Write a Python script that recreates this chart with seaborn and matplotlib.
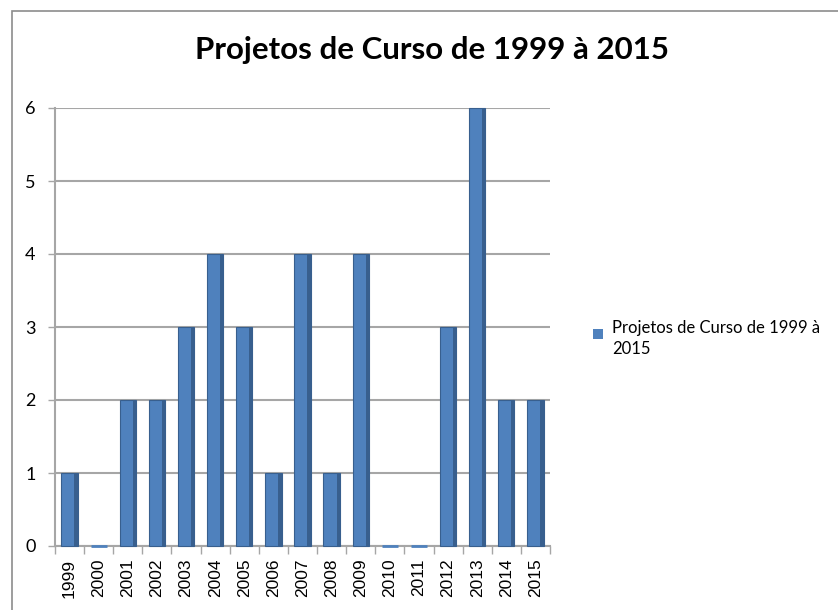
import matplotlib
matplotlib.use("Agg")
import matplotlib.pyplot as plt
import seaborn as sns
import pandas as pd
import numpy as np
from matplotlib.patches import Rectangle

years = ["1999", "2000", "2001", "2002", "2003", "2004", "2005", "2006", "2007",
         "2008", "2009", "2010", "2011", "2012", "2013", "2014", "2015"]
counts = [1, 0, 2, 2, 3, 4, 3, 1, 4, 1, 4, 0, 0, 3, 6, 2, 2]
series_name = "Projetos de Curso de 1999 à 2015"
title = "Projetos de Curso de 1999 à 2015"

sns.set_theme(style="white")
plt.rcParams['font.family'] = ['Lato', 'DejaVu Sans']
plt.rcParams['text.color'] = 'black'
plt.rcParams['xtick.labelcolor'] = 'black'
plt.rcParams['ytick.labelcolor'] = 'black'

df = pd.DataFrame({"Ano": years, "Projetos": counts})

W, H = 838, 610
fig = plt.figure(figsize=(W / 100, H / 100), dpi=100)
fig.patch.set_facecolor("white")

# chart border
fig.add_artist(Rectangle((12 / W, -0.05), 1.2, (H - 11) / H + 0.05,
                         transform=fig.transFigure, fill=False,
                         edgecolor="#8C8C8C", linewidth=1.2))

left, right, top, bottom = 55, 550, 108, 546
ax = fig.add_axes([left / W, 1 - bottom / H, (right - left) / W, (bottom - top) / H])

blue = "#4F81BD"
dark = "#385F8E"
sns.barplot(data=df, x="Ano", y="Projetos", color=blue, width=0.56,
            saturation=1, ax=ax, edgecolor=dark, linewidth=0.8)

# darker side face to mimic 3D columns
for p in list(ax.patches):
    p.set_zorder(3)
    p.set_clip_on(False)
    x0, w, h = p.get_x(), p.get_width(), p.get_height()
    if h == 0:
        p.set_linewidth(2.0)
        p.set_edgecolor(blue)
        continue
    sw = w * 0.2
    ax.add_patch(Rectangle((x0 + w - sw, 0), sw, h, facecolor=dark,
                           edgecolor="none", zorder=3.1))

ax.set_ylim(0, 6)
ax.set_xlim(-0.5, len(years) - 0.5)
ax.set_yticks(range(0, 7))
ax.yaxis.grid(True, color="#A6A6A6", linewidth=1.5)
ax.set_axisbelow(True)
ax.set_xlabel("")
ax.set_ylabel("")
for s in ["top", "right"]:
    ax.spines[s].set_visible(False)
for s in ["left", "bottom"]:
    ax.spines[s].set_color("#A6A6A6")
    ax.spines[s].set_linewidth(1.5)

ax.tick_params(axis="y", length=5, color="#A6A6A6", width=1, labelsize=13, pad=9,
               left=True, labelcolor="black")
ax.tick_params(axis="x", which="major", length=0, labelsize=12.5, pad=9,
               labelrotation=90, labelcolor="black")
ax.set_xticks(np.arange(-0.5, len(years), 1.0), minor=True)
ax.tick_params(axis="x", which="minor", length=6, color="#A6A6A6", width=1,
               bottom=True)
for lbl in ax.get_xticklabels():
    lbl.set_family(["Liberation Sans", "DejaVu Sans"])

fig.text(432 / W, 1 - 50 / H, title, ha="center", va="center",
         fontsize=22.5, fontweight="bold", color="black")

# legend
fig.add_artist(Rectangle((593 / W, 1 - 339 / H), 10 / W, 10 / H,
                         transform=fig.transFigure, facecolor=blue, edgecolor="none"))
fig.text(612 / W, 1 - 334 / H, "Projetos de Curso de 1999 à\n2015", ha="left",
         fontsize=12, linespacing=1.4, va="center_baseline", color="black")

fig.savefig("out.png", dpi=100)
